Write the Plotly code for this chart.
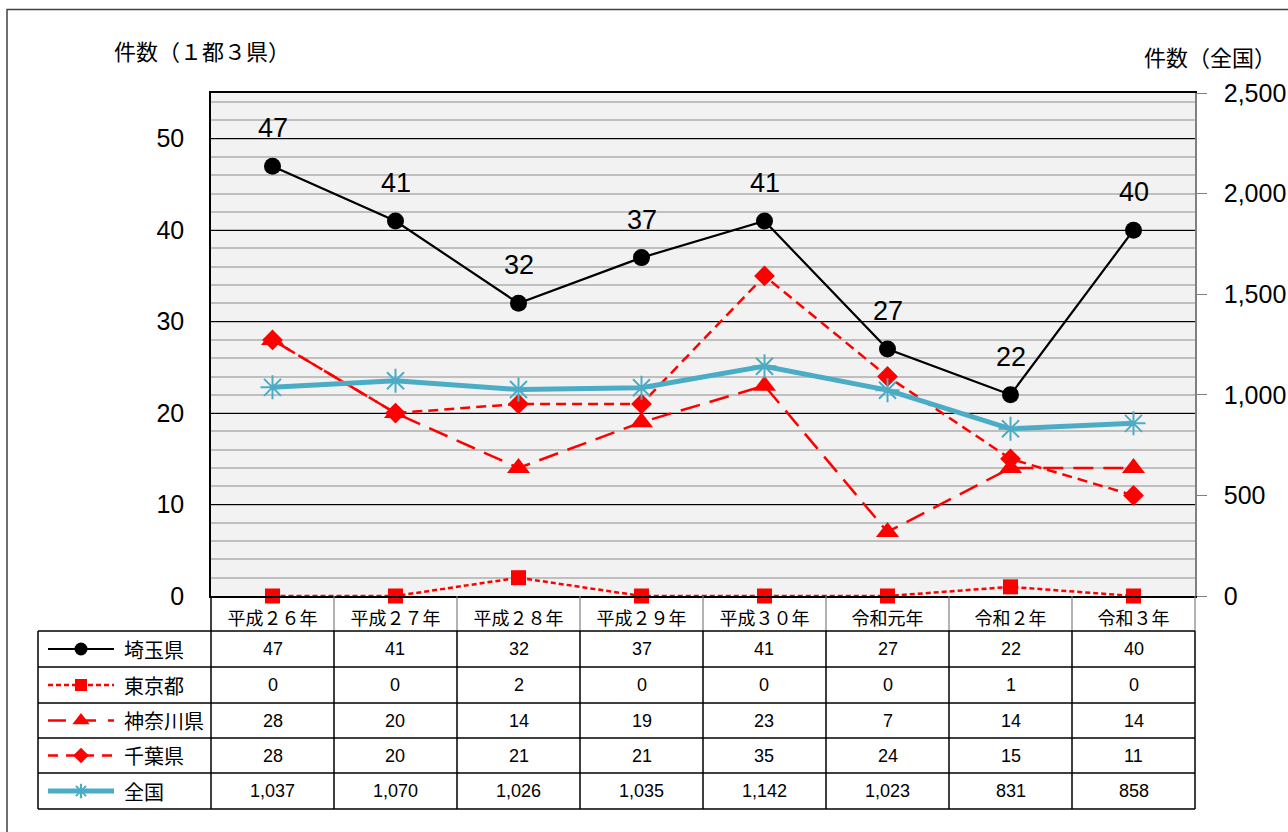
import plotly.graph_objects as go

W, H = 1288, 832

categories = ["平成26年", "平成27年", "平成28年", "平成29年", "平成30年", "令和元年", "令和2年", "令和3年"]
saitama = [47, 41, 32, 37, 41, 27, 22, 40]
tokyo = [0, 0, 2, 0, 0, 0, 1, 0]
kanagawa = [28, 20, 14, 19, 23, 7, 14, 14]
chiba = [28, 20, 21, 21, 35, 24, 15, 11]
zenkoku = [1037, 1070, 1026, 1035, 1142, 1023, 831, 858]

series_names = ["埼玉県", "東京都", "神奈川県", "千葉県", "全国"]
series_values = [saitama, tokyo, kanagawa, chiba, zenkoku]

FONT = "Liberation Sans, Noto Sans CJK JP, sans-serif"
JFONT = "Noto Sans CJK JP, Liberation Sans, sans-serif"
RED = "#ff0000"
BLUE = "#4bacc6"

FW = str.maketrans("0123456789", "０１２３４５６７８９")

# plot area in pixels
PL, PR, PT, PB = 211, 1195, 93, 596
# table
TL = 38
row_edges = [631, 667, 703, 738, 773, 809]


def px(x):
    return x / W


def py(y):
    return 1 - y / H


styles = [
    dict(line=dict(color="black", width=2.2), marker=dict(symbol="circle", size=17, color="black")),
    dict(line=dict(color=RED, width=2.5, dash="5px,3px"), marker=dict(symbol="square", size=15, color=RED)),
    dict(line=dict(color=RED, width=2.5, dash="20px,10px"), marker=dict(symbol="triangle-up", size=20, color=RED)),
    dict(line=dict(color=RED, width=2.5, dash="10px,6px"), marker=dict(symbol="diamond", size=16, color=RED)),
    dict(line=dict(color=BLUE, width=5), marker=dict(symbol="asterisk-open", size=20, color=BLUE,
                                                      line=dict(color=BLUE, width=2))),
]

fig = go.Figure()

# main series: 全国 first (drawn underneath), then reds, then 埼玉県 on top
order = [4, 3, 2, 1, 0]
for i in order:
    name, vals, st = series_names[i], series_values[i], styles[i]
    fig.add_trace(go.Scatter(
        x=categories, y=vals, name=name, mode="lines+markers",
        line=st["line"], marker=st["marker"],
        yaxis="y2" if name == "全国" else "y",
        showlegend=False, cliponaxis=False,
    ))

# legend samples in table (small pixel-coordinate axes over the label column)
legend_dash = [None, "5px,3px", "18px,12px", "10px,8px", None]
legend_msize = [13, 12, 15, 12, 12]
for i in range(5):
    yc = (row_edges[i] + row_edges[i + 1]) / 2
    st = styles[i]
    line = dict(st["line"])
    if legend_dash[i] is not None:
        line["dash"] = legend_dash[i]
    mk = dict(st["marker"])
    mk["size"] = legend_msize[i]
    fig.add_trace(go.Scatter(
        x=[48, 81, 114], y=[yc, yc, yc], mode="lines", line=line,
        xaxis="x3", yaxis="y3", showlegend=False, hoverinfo="skip", cliponaxis=False,
    ))
    fig.add_trace(go.Scatter(
        x=[81], y=[yc], mode="markers", marker=mk,
        xaxis="x3", yaxis="y3", showlegend=False, hoverinfo="skip", cliponaxis=False,
    ))

shapes = []
# plot area fill (below grid)
shapes.append(dict(type="rect", xref="paper", yref="paper", x0=px(PL), x1=px(PR), y0=py(PB), y1=py(PT),
                   fillcolor="#f2f2f2", line=dict(width=0), layer="below"))
# outer border
shapes.append(dict(type="rect", xref="paper", yref="paper", x0=px(7), x1=px(1300), y0=py(850), y1=py(9.5),
                   line=dict(color="#404040", width=1.5), layer="below"))

col_w = (PR - PL) / len(categories)
# header row separators (gray)
for k in range(1, len(categories) + 1):
    xx = PL + k * col_w
    shapes.append(dict(type="line", xref="paper", yref="paper", x0=px(xx), x1=px(xx), y0=py(PB), y1=py(row_edges[0]),
                       line=dict(color="#808080", width=1.2)))
shapes.append(dict(type="line", xref="paper", yref="paper", x0=px(PL), x1=px(PL), y0=py(PB), y1=py(row_edges[0]),
                   line=dict(color="black", width=1.5)))
# table horizontal lines
for ry in row_edges:
    shapes.append(dict(type="line", xref="paper", yref="paper", x0=px(TL), x1=px(PR), y0=py(ry), y1=py(ry),
                       line=dict(color="black", width=1.5)))
# table vertical lines
for xx in [TL, PL] + [PL + k * col_w for k in range(1, len(categories) + 1)]:
    shapes.append(dict(type="line", xref="paper", yref="paper", x0=px(xx), x1=px(xx),
                       y0=py(row_edges[0]), y1=py(row_edges[-1]),
                       line=dict(color="black", width=1.5)))

annotations = []
# data labels for 埼玉県
for c, v in zip(categories, saitama):
    annotations.append(dict(x=c, y=v, xref="x", yref="y", text=str(v), showarrow=False,
                            yshift=38, font=dict(family=FONT, size=27, color="black")))
# table text
for i, (name, vals) in enumerate(zip(series_names, series_values)):
    yc = (row_edges[i] + row_edges[i + 1]) / 2
    annotations.append(dict(x=px(122), y=py(yc), xref="paper", yref="paper", text=name, showarrow=False,
                            xanchor="left", yanchor="middle", font=dict(family=JFONT, size=20, color="black")))
    for k, v in enumerate(vals):
        xc = PL + (k + 0.5) * col_w
        annotations.append(dict(x=px(xc), y=py(yc), xref="paper", yref="paper", text=f"{v:,}", showarrow=False,
                                xanchor="center", yanchor="middle", font=dict(family=FONT, size=18, color="black")))

# axis titles
annotations.append(dict(x=px(202), y=py(50), xref="paper", yref="paper", text="件数（１都３県）", showarrow=False,
                        xanchor="center", yanchor="middle", font=dict(family=JFONT, size=22, color="black")))
annotations.append(dict(x=px(1210), y=py(56), xref="paper", yref="paper", text="件数（全国）", showarrow=False,
                        xanchor="center", yanchor="middle", font=dict(family=JFONT, size=22, color="black")))

fig.update_layout(
    width=W, height=H,
    margin=dict(l=0, r=0, t=0, b=0, autoexpand=False),
    paper_bgcolor="white",
    plot_bgcolor="rgba(0,0,0,0)",
    font=dict(family=FONT, color="black"),
    xaxis=dict(
        domain=[px(PL), px(PR)], range=[-0.5, 7.5], type="category",
        tickvals=categories, ticktext=[c.translate(FW) for c in categories],
        showgrid=False, showline=True, linecolor="black", linewidth=1.5, mirror=True,
        ticks="", ticklabelstandoff=6, automargin=False,
        tickfont=dict(family=JFONT, size=18, color="black"),
        zeroline=False,
    ),
    yaxis=dict(
        domain=[py(PB), py(PT)], range=[0, 55], tickvals=[0, 10, 20, 30, 40, 50],
        showgrid=True, gridcolor="black", gridwidth=1,
        minor=dict(dtick=2, tick0=0, showgrid=True, gridcolor="#bfbfbf", gridwidth=2),
        showline=True, linecolor="black", linewidth=1.5,
        ticks="", ticklabelstandoff=20, automargin=False,
        tickfont=dict(family=FONT, size=25, color="black"),
        zeroline=False,
    ),
    yaxis2=dict(
        domain=[py(PB), py(PT)], range=[0, 2500], tickvals=[0, 500, 1000, 1500, 2000, 2500],
        overlaying="y", side="right", showgrid=False,
        showline=True, linecolor="#808080", linewidth=1.5,
        ticks="outside", ticklen=10, tickcolor="#808080", tickwidth=1.2,
        ticklabelstandoff=12, tickformat=",d", automargin=False,
        tickfont=dict(family=FONT, size=25, color="black"),
        zeroline=False,
    ),
    xaxis3=dict(domain=[px(TL), px(PL)], range=[TL, PL], visible=False, fixedrange=True, anchor="y3",
                automargin=False),
    yaxis3=dict(domain=[py(row_edges[-1]), py(row_edges[0])], range=[row_edges[-1], row_edges[0]],
                visible=False, fixedrange=True, anchor="x3", automargin=False),
    shapes=shapes,
    annotations=annotations,
)

fig.write_html("out.html", config={"displayModeBar": False},
               post_script="document.body.style.margin='0';document.body.style.overflow='hidden';")
